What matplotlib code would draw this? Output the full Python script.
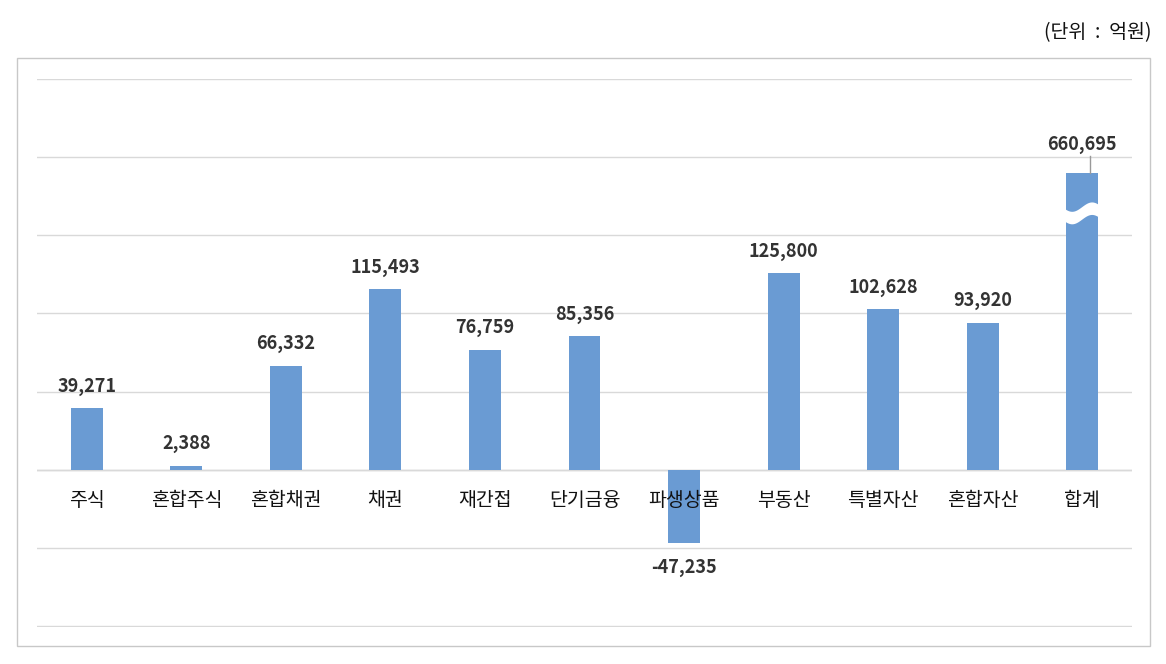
import matplotlib
matplotlib.use("Agg")
import matplotlib.pyplot as plt
import numpy as np
from matplotlib.patches import Rectangle, Polygon

plt.rcParams['font.family'] = ['Noto Sans CJK KR', 'DejaVu Sans']

categories = ["주식", "혼합주식", "혼합채권", "채권", "재간접", "단기금융", "파생상품", "부동산", "특별자산", "혼합자산", "합계"]
values = [39271, 2388, 66332, 115493, 76759, 85356, -47235, 125800, 102628, 93920, 660695]
display_cap = 190000  # 합계 bar is drawn truncated (axis break)
unit_label = "(단위  :  억원)"

W, H = 1166, 664
fig = plt.figure(figsize=(W/100, H/100), dpi=100)
fig.patches.append(Rectangle((17/W, 1-646/H), (1150-17)/W, (646-58)/H, transform=fig.transFigure,
                             fill=False, edgecolor='#c8c8c8', linewidth=1))
ax = fig.add_axes([37/W, 1-627/H, (1132-37)/W, (627-79)/H])
color = '#6A9BD3'
x = np.arange(len(categories))
shown = [min(v, display_cap) for v in values]
ax.bar(x, shown, width=0.32, color=color, zorder=3)
ax.set_ylim(-100700, 250000)
ax.set_xlim(-0.5, len(categories)-0.5)
ax.set_yticks(np.arange(-100000, 250001, 50000))
ax.grid(axis='y', color='#d9d9d9', linewidth=1, zorder=0)
ax.axhline(0, color='#d0d0d0', linewidth=1, zorder=1)
for s in ax.spines.values():
    s.set_visible(False)
ax.set_xticks([]); ax.tick_params(left=False, labelleft=False)

for i, (c, v, sv) in enumerate(zip(categories, values, shown)):
    ax.text(i, -13000, c, ha='center', va='top', fontsize=14, fontweight='medium', color='#111111', zorder=5)
    lab = f"{v:,}"
    if v < 0:
        ax.text(i, sv - 9000, lab, ha='center', va='top', fontsize=13, fontweight='bold', color='#333333')
    elif v > display_cap:
        ax.text(i, sv + 12000, lab, ha='center', va='bottom', fontsize=13, fontweight='bold', color='#333333')
        ax.plot([i+0.08, i+0.08], [sv, sv + 11000], color='#999999', lw=1, zorder=4)
    else:
        ax.text(i, sv + 8000, lab, ha='center', va='bottom', fontsize=13, fontweight='bold', color='#333333')

# break mark on the total bar
i = len(categories) - 1
t = np.linspace(-0.2, 0.2, 50)
wave = 3000*np.sin(t/0.2*np.pi)
y1 = 168000 + wave
y2 = 160000 + wave
poly = np.vstack([np.column_stack([i+t, y1]), np.column_stack([i+t[::-1], y2[::-1]])])
ax.add_patch(Polygon(poly, closed=True, facecolor='white', edgecolor='none', zorder=4))

fig.text(1152/W, 1-33/H, unit_label, ha='right', va='center', fontsize=14, color='#111111')
fig.savefig('out.png', dpi=100)
